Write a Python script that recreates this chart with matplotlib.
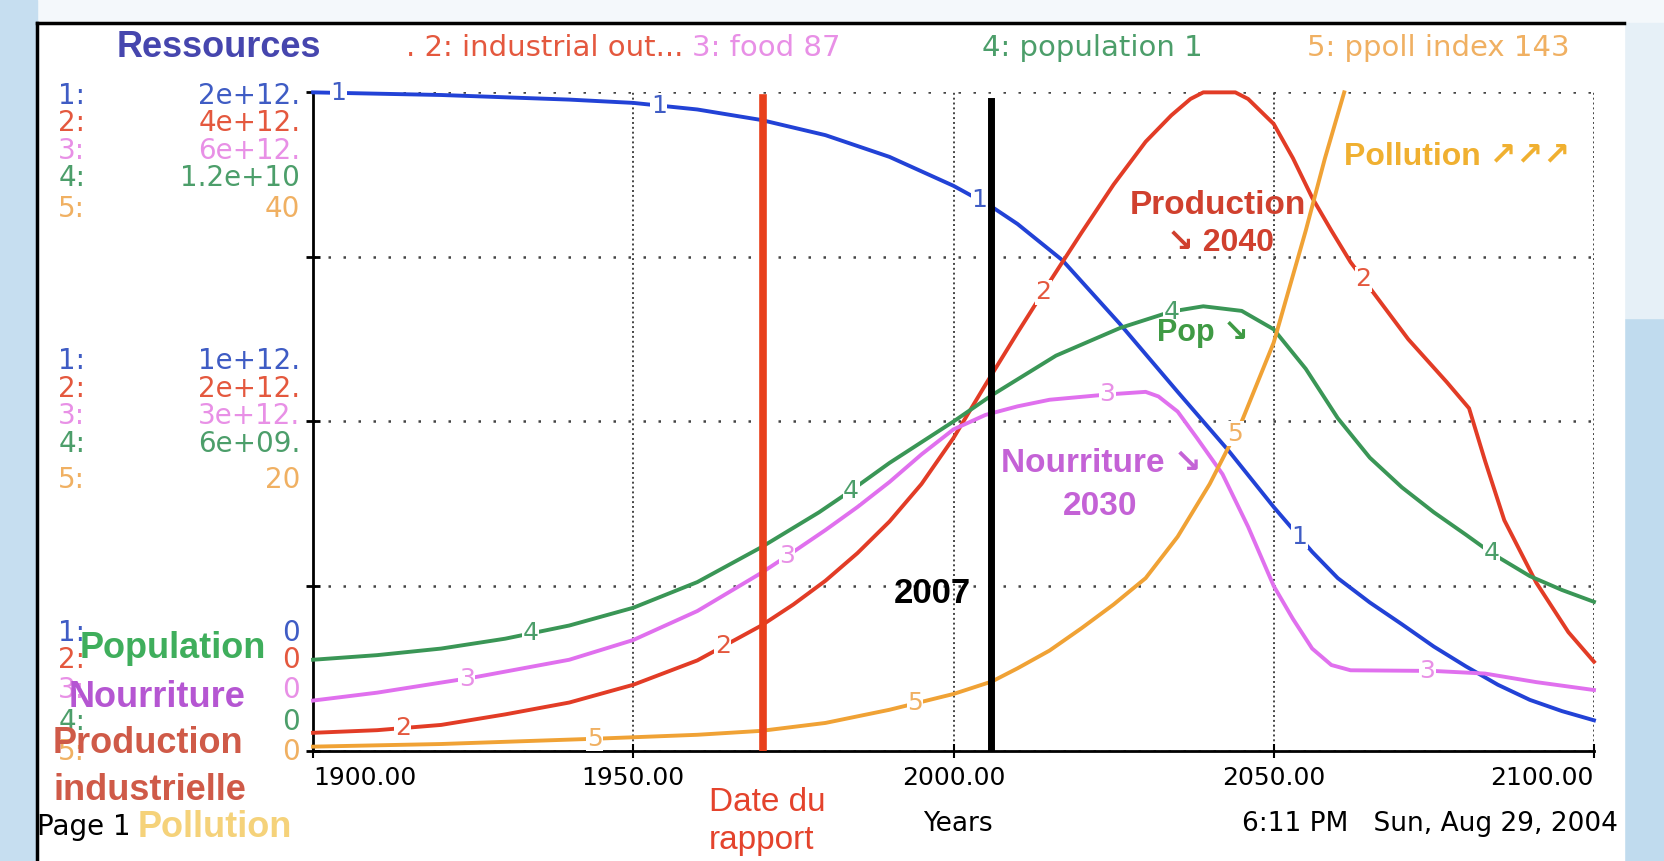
import matplotlib.pyplot as plt
import numpy as np
from matplotlib.patches import Rectangle
from matplotlib.lines import Line2D

# values (years, then value in the series' own unit)
res_years = [1900, 1920, 1940, 1950, 1960, 1970, 1980, 1990, 2000, 2006, 2010, 2017, 2026,
             2035, 2043, 2050, 2056, 2060, 2065, 2070, 2075, 2080, 2085, 2090, 2095, 2100]
resources = [2.0, 1.992, 1.978, 1.968, 1.948, 1.916, 1.87, 1.804, 1.716, 1.652, 1.6, 1.49,
             1.296, 1.09, 0.91, 0.74, 0.604, 0.524, 0.45, 0.384, 0.316, 0.256, 0.2, 0.154,
             0.12, 0.092]  # 1e12

ind_years = [1900, 1910, 1920, 1930, 1940, 1950, 1960, 1970, 1975, 1980, 1985, 1990, 1995,
             2000, 2005, 2010, 2015, 2020, 2025, 2030, 2034, 2037, 2039, 2044, 2046, 2050,
             2053, 2056, 2059, 2062, 2066, 2071, 2077, 2080.5, 2083, 2086, 2091, 2096, 2100]
industry = [0.108, 0.124, 0.156, 0.22, 0.292, 0.4, 0.548, 0.76, 0.888, 1.032, 1.2, 1.392,
            1.62, 1.9, 2.224, 2.54, 2.848, 3.148, 3.44, 3.7, 3.86, 3.96, 4.0, 4.0, 3.96,
            3.808, 3.6, 3.36, 3.16, 2.968, 2.76, 2.5, 2.24, 2.08, 1.76, 1.4, 1.02, 0.72,
            0.54]  # 1e12

food_years = [1900, 1910, 1925, 1940, 1950, 1960, 1970, 1975, 1980, 1985, 1990, 1995, 2000,
              2005, 2010, 2015, 2024, 2030, 2032, 2035, 2038, 2042, 2046, 2050, 2053, 2056,
              2059, 2062, 2075, 2083, 2091, 2100]
food = [0.456, 0.528, 0.666, 0.828, 1.008, 1.272, 1.62, 1.812, 2.01, 2.22, 2.448, 2.7, 2.928,
        3.06, 3.138, 3.198, 3.246, 3.27, 3.228, 3.09, 2.85, 2.52, 2.04, 1.5, 1.2, 0.93,
        0.78, 0.732, 0.726, 0.702, 0.624, 0.552]  # 1e12

pop_years = [1900, 1910, 1920, 1930, 1940, 1950, 1960, 1970, 1979, 1984, 1990, 2000, 2006,
             2016, 2026, 2034, 2039, 2045, 2050, 2055, 2060, 2065, 2070, 2075, 2080, 2084,
             2090, 2095, 2100]
population = [1.656, 1.74, 1.86, 2.04, 2.28, 2.604, 3.072, 3.708, 4.344, 4.74, 5.244, 6.0,
              6.48, 7.2, 7.704, 8.004, 8.1, 8.016, 7.68, 6.96, 6.06, 5.34, 4.8, 4.344,
              3.936, 3.6, 3.18, 2.928, 2.712]  # 1e9

pol_years = [1900, 1920, 1944, 1960, 1970, 1980, 1990, 1995, 2000, 2006, 2010, 2015, 2020,
             2025, 2030, 2035, 2040, 2045, 2050, 2055, 2058, 2061]
pollution = [0.24, 0.4, 0.72, 0.96, 1.2, 1.68, 2.48, 2.96, 3.44, 4.2, 5.0, 6.08, 7.44, 8.88,
             10.48, 13.0, 16.2, 20.0, 24.8, 31.6, 36.0, 40.0]

scale_top = [2.0, 4.0, 6.0, 12.0, 40.0]
top_labels = ['2e+12.', '4e+12.', '6e+12.', '1.2e+10', '40']
mid_labels = ['1e+12.', '2e+12.', '3e+12.', '6e+09.', '20']
titles = ['. 2: industrial out...', '3: food 87', '4: population 1', '5: ppoll index 143']

line_cols = ['#2242d6', '#e23c26', '#e070ee', '#3a9656', '#f0a235']
text_cols = ['#3f5cc4', '#e4583e', '#e890e6', '#4c9e6a', '#f0b062']

W, H = 1568.0, 811.0


def P(x, y):
    return x / W, 1 - y / H


fig = plt.figure(figsize=(16.64, 8.61), dpi=100)
fig.patch.set_facecolor('#f4f8fb')

# screenshot frame
fig.add_artist(Rectangle(P(0, 811), 35 / W, 1, color='#c6def0', zorder=0))
fig.add_artist(Rectangle(P(1530, 811), 1, 511 / H, color='#c0dbee', zorder=0))
fig.add_artist(Rectangle(P(1530, 300), 1, 278 / H, color='#e6f0f7', zorder=0))
fig.add_artist(Rectangle(P(35, 811), 1495 / W, (811 - 22) / H, color='white', zorder=0))
x0, y0 = P(35, 22)
x1, _ = P(1530, 22)
fig.add_artist(Line2D([x0, x1], [y0, y0], color='black', lw=2.5))
fig.add_artist(Line2D([x0, x0], [0, y0], color='black', lw=2.5))

ax = fig.add_axes([295 / W, 1 - 707 / H, (1502 - 295) / W, 620 / H])
ax.set_facecolor('none')
ax.set_xlim(1900, 2100)
ax.set_ylim(0, 1)

ax.set_xticks([1900, 1950, 2000, 2050, 2100])
ax.set_xticklabels(['%.2f' % t for t in [1900, 1950, 2000, 2050, 2100]])
ax.set_yticks([0, 0.25, 0.5, 0.75, 1.0])
ax.set_yticklabels([])
ax.tick_params(axis='x', direction='inout', length=10, width=1.5, labelsize=18, pad=6)
ax.tick_params(axis='y', direction='inout', length=10, width=2)
labs = ax.get_xticklabels()
labs[0].set_ha('left')
labs[-1].set_ha('right')
for s in ['top', 'right']:
    ax.spines[s].set_visible(False)
for s in ['left', 'bottom']:
    ax.spines[s].set_linewidth(2)
ax.yaxis.grid(True, linestyle=(0, (1, 5)), color='#444444', lw=1.8)
ax.xaxis.grid(True, linestyle=(0, (1, 1.5)), color='#444444', lw=1.4)
ax.set_axisbelow(True)

series = [(res_years, resources), (ind_years, industry), (food_years, food),
          (pop_years, population), (pol_years, pollution)]
for i, (yrs, vals) in enumerate(series):
    v = np.array(vals) / scale_top[i]
    ax.plot(yrs, v, color=line_cols[i], lw=2.8, clip_on=False, zorder=3)
    for k in range(4):
        yr = 1904 + 10 * i + 50 * k
        if yr > yrs[-1]:
            continue
        ax.text(yr, np.interp(yr, yrs, v), str(i + 1), color=text_cols[i],
                fontsize=18, ha='center', va='center', zorder=4,
                bbox=dict(facecolor='white', edgecolor='none', pad=0.4))

# report date and today
ax.axvline(1970.3, ymax=0.992, color='#e8401c', lw=5.5, zorder=5)
ax.axvline(2005.9, ymax=0.987, color='black', lw=5, zorder=5)

# scale labels on the left
rows = [[90, 116, 142, 168, 197], [340, 366, 392, 418, 452], [596, 622, 650, 680, 708]]
for r, labels in zip(rows, [top_labels, mid_labels, ['0'] * 5]):
    for i in range(5):
        fig.text(*P(55, r[i]), '%d:' % (i + 1), color=text_cols[i], fontsize=20,
                 ha='left', va='center')
        fig.text(*P(283, r[i]), labels[i], color=text_cols[i], fontsize=20,
                 ha='right', va='center')

fig.text(*P(110, 45), 'Ressources', color='#4646ae', fontsize=26, weight='bold',
         family='Liberation Sans', va='center')
for t, x, c in zip(titles, [383, 652, 925, 1232], text_cols[1:]):
    fig.text(*P(x, 45), t, color=c, fontsize=21, va='center')

bold = dict(family=['Liberation Sans', 'DejaVu Sans'], weight='bold', zorder=10)
fig.text(*P(75, 611), 'Population', color='#3fae5c', fontsize=26, va='center', **bold)
fig.text(*P(65, 657), 'Nourriture', color='#b556d2', fontsize=26, va='center', **bold)
fig.text(*P(50, 700), 'Production', color='#cf5a48', fontsize=26, va='center', **bold)
fig.text(*P(50, 745), 'industrielle', color='#cf5a48', fontsize=26, va='center', **bold)
fig.text(*P(130, 779), 'Pollution', color='#f5d27a', fontsize=26, va='center', **bold)
fig.text(*P(35, 779), 'Page 1', color='black', fontsize=20, va='center')

fig.text(*P(1148, 194), 'Production', color='#d0402e', fontsize=24, ha='center',
         va='center', **bold)
fig.text(*P(1150, 229), '\u2198 2040', color='#d0402e', fontsize=23, ha='center',
         va='center', **bold)
fig.text(*P(1090, 314), 'Pop \u2198', color='#3f9a44', fontsize=22, va='center', **bold)
fig.text(*P(943, 437), 'Nourriture \u2198', color='#c462d6', fontsize=24, va='center',
         **bold)
fig.text(*P(1037, 477), '2030', color='#c462d6', fontsize=24, ha='center', va='center',
         **bold)
fig.text(*P(1266, 148), 'Pollution \u2197\u2197\u2197', color='#f0b030', fontsize=23,
         va='center', **bold)
fig.text(*P(915, 559), '2007', color='black', fontsize=25, ha='right', va='center', **bold)

reg = dict(family=['Liberation Sans', 'DejaVu Sans'], color='#e4432c', fontsize=24)
fig.text(*P(668, 756), 'Date du', va='center', **reg)
fig.text(*P(668, 792), 'rapport', va='center', **reg)
fig.text(*P(903, 776), 'Years', fontsize=19, ha='center', va='center')
fig.text(*P(1525, 776), '6:11 PM   Sun, Aug 29, 2004', fontsize=19, ha='right',
         va='center')

fig.savefig('out.png', dpi=100)
